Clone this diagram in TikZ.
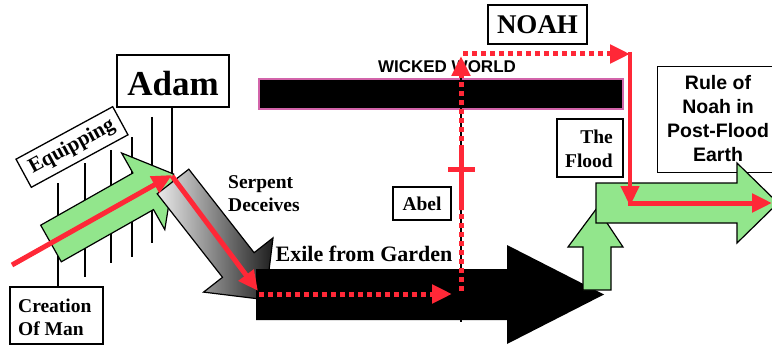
\documentclass[tikz,border=0pt]{standalone}
\usepackage{fontspec}
\setmainfont{Liberation Serif}
\newfontfamily\sansf{Liberation Sans}
\usetikzlibrary{arrows.meta}
\definecolor{redl}{RGB}{255,40,55}
\definecolor{greenl}{RGB}{146,230,140}
\definecolor{pinkb}{RGB}{210,100,170}
\tikzset{
 box/.style={draw=black, line width=1.3pt, fill=white, inner sep=0pt},
 thinl/.style={draw=black, line width=1.5pt},
 blockarrow/.style={draw=black, line width=1.2pt, line join=miter},
 redsolid/.style={draw=redl, line width=5pt},
 reddot/.style={draw=redl, line width=5pt, dash pattern=on 5pt off 4pt},
 redtip/.style={-{Triangle[length=20pt,width=18pt]}},
 sertext/.style={font=\bfseries\fontsize{19.5}{23.5}\selectfont, inner sep=0pt},
}
\begin{document}
\begin{tikzpicture}[x=1pt,y=-1pt]
\clip (0,0) rectangle (772,345);
\fill[white] (0,0) rectangle (772,345);

% timeline ticks
\foreach \nm/\xx/\ya/\yb in {ta/58/183/287, tb/85/163/277, tc/111/150/263, td/132/137/257, te/152/117/243, tf/172/107/173}{
  \coordinate (\nm1) at (\xx,\ya);
  \coordinate (\nm2) at (\xx,\yb);
  \draw[thinl] (\nm1) -- (\nm2);
}

% boxes on the left
\node[box, rotate=28.5, minimum width=110pt, minimum height=32pt, font=\bfseries\fontsize{21}{24}\selectfont] (equip) at (72,147) {Equipping};
\node[box, minimum width=112pt, minimum height=52pt] (adam) at (173,81) {};
\node[font=\bfseries\fontsize{35}{40}\selectfont, inner sep=0pt] (adamtxt) at (173,84) {Adam};
\node[box, minimum width=93pt, minimum height=57pt] (creation) at (56.5,315.5) {};
\node[sertext, align=left, anchor=west] (creationtxt) at (18,317.5) {Creation\\Of Man};

% green arrow (equipping)
\draw[blockarrow, fill=greenl] (40.7,225.2) -- (132.9,173.0) -- (121.6,153.0) -- (173.7,174.1) -- (164.8,229.6) -- (153.5,209.6) -- (61.3,261.8) -- cycle;

% gray serpent arrow
\draw[blockarrow, left color=black!8, right color=black!88] (188.8,169.2) -- (254.1,252.7) -- (273.0,237.9) -- (265.4,299.7) -- (203.6,292.1) -- (222.5,277.3) -- (157.2,193.8) -- cycle;

% wicked world bar
\node[fill=black, draw=pinkb, line width=2pt, minimum width=364pt, minimum height=30pt, inner sep=0pt] (bar) at (441,94) {};
\node[font=\sansf\bfseries\fontsize{17}{20}\selectfont, inner sep=0pt] (wicked) at (447,67) {WICKED WORLD};

% black timeline
\coordinate (vtop) at (461,60);
\coordinate (vbot) at (461,322);
\draw[thinl, line width=2pt] (vtop) -- (vbot);

% big black arrow
\fill[black] (256,269) -- (507,269) -- (507,245) -- (604,294.5) -- (507,344) -- (507,320) -- (256,320) -- cycle;

% right side
\node[box, minimum width=150pt, minimum height=106pt, anchor=north west] (rule) at (657,66) {};
\draw[blockarrow, fill=greenl] (583,290) -- (611,290) -- (611,247) -- (623,247) -- (597,208) -- (568,247) -- (583,247) -- cycle;
\draw[blockarrow, fill=greenl] (596,183) -- (737,183) -- (737,163) -- (778,203) -- (737,243) -- (737,223) -- (596,223) -- cycle;
\node[font=\sansf\bfseries\fontsize{19.5}{24}\selectfont, align=center, inner sep=0pt] (ruletxt) at (718,119) {Rule of\\Noah in\\Post-Flood\\Earth};
\node[box, minimum width=66pt, minimum height=58pt] (flood) at (590,148) {};
\node[sertext, align=right, anchor=east] (floodtxt) at (613,149) {The\\Flood};

% other labels
\node[box, minimum width=99pt, minimum height=39pt, font=\bfseries\fontsize{27}{30}\selectfont] (noah) at (537.5,24.5) {NOAH};
\node[sertext, align=left, anchor=west] (serp) at (228,193.5) {Serpent\\Deceives};
\node[font=\bfseries\fontsize{22}{26}\selectfont, inner sep=0pt] (exile) at (364,254) {Exile from Garden};
\node[box, minimum width=58pt, minimum height=33pt, font=\bfseries\fontsize{19.5}{22}\selectfont] (abel) at (422,203.5) {Abel};

% red path
\coordinate (r0) at (12,265);
\coordinate (r1) at (172,175);
\coordinate (r1b) at (172,176);
\coordinate (r2) at (258,291);
\coordinate (r3) at (259,294);
\coordinate (r4) at (452,294);
\coordinate (r5) at (461,291);
\coordinate (r6) at (461,210);
\coordinate (r7) at (461,150);
\coordinate (r8) at (461,56);
\coordinate (r9) at (463,54);
\coordinate (r10) at (630,54);
\coordinate (r10b) at (630,52);
\coordinate (r11) at (630,206);
\coordinate (r11b) at (628,203);
\coordinate (r12) at (772,203);
\coordinate (crl) at (448,169);
\coordinate (crr) at (475,169);

\draw[redsolid, redtip] (r0) -- (r1);
\draw[redsolid, redtip] (r1b) -- (r2);
\draw[reddot, redtip] (r3) -- (r4);
\draw[reddot] (r5) -- (r6);
\draw[redsolid] (r6) -- (r7);
\draw[redsolid] (crl) -- (crr);
\draw[reddot, redtip] (r7) -- (r8);
\draw[reddot, redtip] (r9) -- (r10);
\draw[redsolid, line width=4.5pt, redtip] (r10b) -- (r11);
\draw[redsolid, redtip] (r11b) -- (r12);
\end{tikzpicture}
\end{document}
